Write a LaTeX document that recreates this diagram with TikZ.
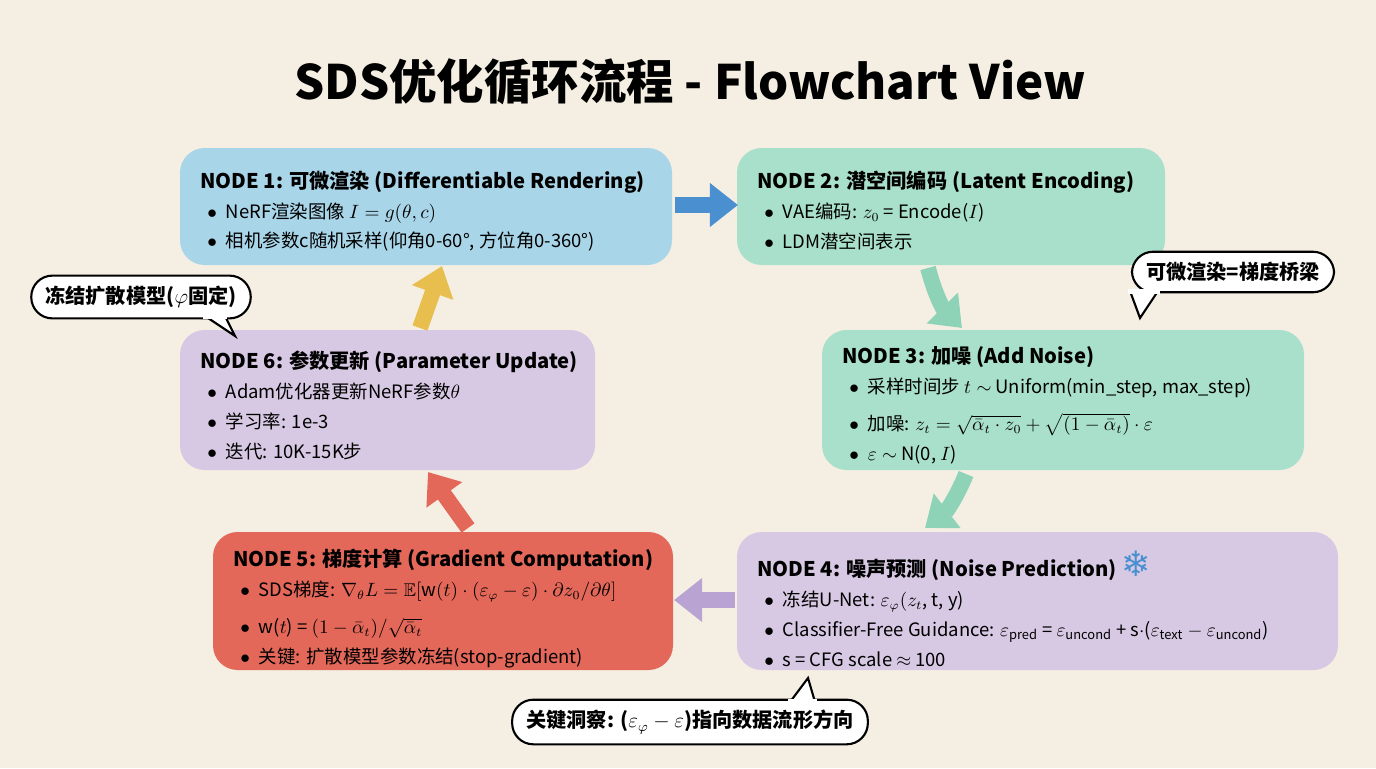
\documentclass[tikz,border=0pt]{standalone}
\usepackage{fontspec}
\usepackage{amsmath,amssymb}
\setmainfont{Noto Sans CJK SC}
\newfontfamily\symfont{DejaVu Sans}
\usetikzlibrary{positioning,arrows.meta,shapes.callouts}
\definecolor{bgc}{HTML}{F5EFE3}
\definecolor{blueb}{HTML}{A8D5E8}
\definecolor{mintb}{HTML}{A9E0CB}
\definecolor{lavb}{HTML}{D7C9E3}
\definecolor{redb}{HTML}{E4685A}
\definecolor{arrblue}{HTML}{4A90D0}
\definecolor{arrmint}{HTML}{8ED3B8}
\definecolor{arrlav}{HTML}{B9A3D2}
\definecolor{arrred}{HTML}{E4685A}
\definecolor{arryel}{HTML}{E8BE4F}
\tikzset{
  stepbox/.style={anchor=north west,inner xsep=8pt,inner ysep=6pt,
    align=left,font=\fontsize{10.5}{17}\selectfont},
  flow/.style={line width=9pt,-{Triangle[length=16pt,width=24pt]}},
  bubble/.style={draw,line width=1.2pt,fill=white,rounded corners=12pt,
    font=\fontsize{11.5}{14}\selectfont\bfseries,inner xsep=8pt,inner ysep=6pt}
}
\newcommand{\hdr}[1]{{\fontsize{11.5}{16}\selectfont\bfseries #1}}
\newcommand{\itm}{\hspace*{4pt}$\bullet$\hspace{5pt}}
\begin{document}
\begin{tikzpicture}[x=0.02cm,y=-0.02cm]
  \fill[bgc] (0,0) rectangle (1376,768);
  \useasboundingbox (0,0) rectangle (1376,768);
  %titulo
  \node[font=\fontsize{27}{32}\selectfont\bfseries] (titulo) at (690,82) {SDS优化循环流程 - Flowchart View};
  %nodos
  \fill[blueb,rounded corners=14pt] (180,148) rectangle (672,265);
  \node[stepbox] (n1) at (186,160) {\hdr{NODE 1: 可微渲染 (Differentiable Rendering)}\\
    \itm NeRF渲染图像 $I=g(\theta,c)$\\
    \itm 相机参数c随机采样(仰角0-60°, 方位角0-360°)};
  \fill[mintb,rounded corners=14pt] (737,148) rectangle (1165,265);
  \node[stepbox] (n2) at (743,160) {\hdr{NODE 2: 潜空间编码 (Latent Encoding)}\\
    \itm VAE编码: $z_0$ = Encode($I$)\\
    \itm LDM潜空间表示};
  \fill[mintb,rounded corners=14pt] (822,330) rectangle (1304,470);
  \node[stepbox,font=\fontsize{10.5}{17}\selectfont] (n3) at (828,336) {\hdr{NODE 3: 加噪 (Add Noise)}\\
    \itm 采样时间步 $t\sim$ Uniform(min\_step, max\_step)\\[4pt]
    \itm 加噪: $z_t=\sqrt{\bar\alpha_t\cdot z_0}+\sqrt{(1-\bar\alpha_t)}\cdot\varepsilon$\\
    \itm $\varepsilon\sim$ N(0, $I$)};
  \fill[lavb,rounded corners=14pt] (737,532) rectangle (1338,670);
  \node[stepbox] (n4) at (743,540) {\hdr{NODE 4: 噪声预测 (Noise Prediction) {\symfont\textcolor{arrblue}{\fontsize{20}{20}\selectfont ❄}}}\\
    \itm 冻结U-Net: $\varepsilon_\varphi(z_t$, t, y)\\
    \itm Classifier-Free Guidance: $\varepsilon_{\text{pred}}$ = $\varepsilon_{\text{uncond}}$ + s$\cdot$($\varepsilon_{\text{text}}-\varepsilon_{\text{uncond}}$)\\
    \itm s = CFG scale $\approx$ 100};
  \fill[redb,rounded corners=14pt] (213,532) rectangle (673,670);
  \node[stepbox,font=\fontsize{10.5}{17}\selectfont] (n5) at (219,538) {\hdr{NODE 5: 梯度计算 (Gradient Computation)}\\
    \itm SDS梯度: $\nabla_\theta L=\mathbb{E}[\mathrm{w}(t)\cdot(\varepsilon_\varphi-\varepsilon)\cdot\partial z_0/\partial\theta]$\\[4pt]
    \itm w($t$) = $(1-\bar\alpha_t)/\sqrt{\bar\alpha_t}$\\
    \itm 关键: 扩散模型参数冻结(stop-gradient)};
  \fill[lavb,rounded corners=14pt] (180,330) rectangle (595,470);
  \node[stepbox] (n6) at (186,340) {\hdr{NODE 6: 参数更新 (Parameter Update)}\\
    \itm Adam优化器更新NeRF参数$\theta$\\
    \itm 学习率: 1e-3\\
    \itm 迭代: 10K-15K步};
  %flechas
  \coordinate (a1) at (675,205); \coordinate (b1) at (738,205);
  \coordinate (a2) at (928,268); \coordinate (b2) at (962,328);
  \coordinate (a3) at (966,474); \coordinate (b3) at (925,528);
  \coordinate (a4) at (735,600); \coordinate (b4) at (674,600);
  \coordinate (a5) at (468,528); \coordinate (b5) at (428,472);
  \coordinate (a6) at (420,328); \coordinate (b6) at (442,266);
  \draw[flow,arrblue] (a1) -- (b1);
  \draw[flow,arrmint] (a2) to[bend right=15] (b2);
  \draw[flow,arrmint] (a3) to[bend left=15] (b3);
  \draw[flow,arrlav] (a4) -- (b4);
  \draw[flow,arrred] (a5) -- (b5);
  \draw[flow,arryel] (a6) -- (b6);
  %globos
  \node[bubble,anchor=center] (g1) at (141,297) {冻结扩散模型($\varphi$固定)};
  \draw[line width=1.2pt,fill=white] (205,316) -- (235,336) -- (225,316);
  \fill[white] (203,314) rectangle (227,318.5);
  \node[bubble,anchor=center] (g2) at (1233,272) {可微渲染=梯度桥梁};
  \draw[line width=1.2pt,fill=white] (1130,291) -- (1140,318) -- (1158,291);
  \fill[white] (1128,289) rectangle (1160,293.5);
  \node[bubble,anchor=center] (g3) at (690,722) {关键洞察: ($\varepsilon_\varphi-\varepsilon$)指向数据流形方向};
  \draw[line width=1.2pt,fill=white] (790,702) -- (808,678) -- (815,702);
  \fill[white] (788,698.5) rectangle (817,703);
\end{tikzpicture}
\end{document}
